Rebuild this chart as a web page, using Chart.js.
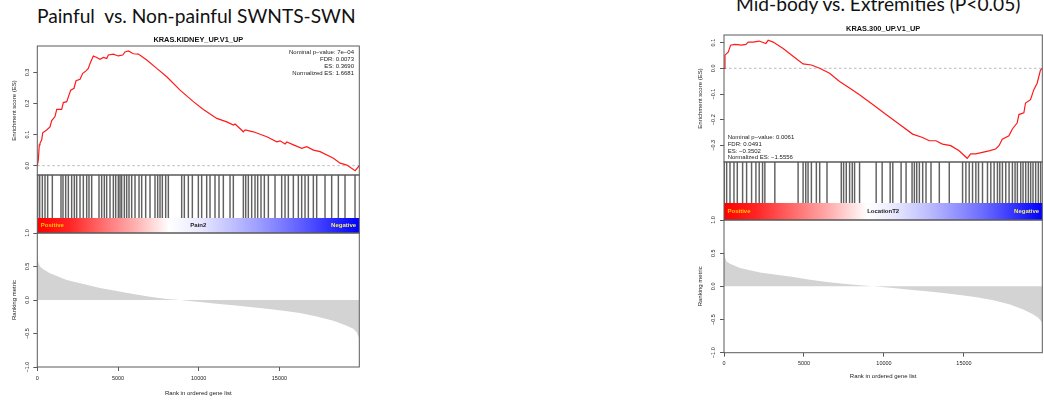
<!DOCTYPE html>
<html>
<head>
<meta charset="utf-8">
<script src="https://cdn.jsdelivr.net/npm/chart.js@4.4.1/dist/chart.umd.min.js"></script>
<style>
html, body { margin: 0; padding: 0; background: #fff; }
#page { position: relative; width: 1044px; height: 403px; overflow: hidden; }
canvas { position: absolute; top: 0; }
.head { position: absolute; font-family: Lato, 'Open Sans', sans-serif; font-size: 19.2px; line-height: 20px; color: #111; white-space: pre; }
</style>
</head>
<body>
<div id="page">
  <div class="head" style="left:37px; top:6px">Painful  vs. Non-painful SWNTS-SWN</div>
  <div class="head" style="left:736px; top:-5.6px">Mid-body vs. Extremities (P&lt;0.05)</div>
  <canvas id="gseaPain" width="372" height="403" style="left:0"></canvas>
  <canvas id="gseaLocation" width="384" height="403" style="left:660px"></canvas>
</div>
<script>
const FONT = "'Liberation Sans', Arial, Helvetica, sans-serif";

// ---- Pain2: KRAS.KIDNEY_UP.V1_UP ----
const geneCountPain = 19950;
const esRankPain = [0, 62, 124, 167, 273, 335, 583, 787, 893, 1097, 1203, 1512, 1612, 1822, 2070, 2275, 2399, 2647, 2814, 3019,
  3161, 3267, 3471, 3682, 3886, 4091, 4302, 4401, 4711, 5021, 5293, 5436, 5641, 5951, 6261, 6781, 7401, 8021, 8845, 9669,
  10289, 11120, 11740, 12149, 12254, 12769, 12874, 13389, 14219, 14839, 15044, 15354, 15459, 15868, 16389, 16699, 17108, 17523, 18347, 18762,
  19178, 19693, 19950];
const esPain = [0, 0.018, 0.067, 0.072, 0.083, 0.106, 0.115, 0.125, 0.145, 0.158, 0.181, 0.181, 0.203, 0.206, 0.243, 0.249, 0.273, 0.278, 0.297, 0.305,
  0.313, 0.329, 0.353, 0.348, 0.342, 0.348, 0.345, 0.356, 0.359, 0.353, 0.356, 0.366, 0.369, 0.360, 0.359, 0.340, 0.313, 0.286, 0.243, 0.206,
  0.181, 0.152, 0.141, 0.131, 0.134, 0.109, 0.115, 0.109, 0.093, 0.077, 0.080, 0.070, 0.076, 0.067, 0.056, 0.061, 0.050, 0.045, 0.024, 0.008,
  0.002, -0.016, 0.0];
const hitsPain = [23, 147, 312, 477, 642, 931, 1468, 1592, 1758, 1923, 2129, 2295, 2439, 2646, 2852, 3059, 3203, 3369, 3823, 3988,
  4153, 4298, 4504, 4711, 4856, 5021, 5124, 5227, 5393, 5537, 5682, 5847, 6054, 6302, 6467, 6715, 6983, 7293, 7458, 7603,
  7747, 7954, 8119, 8945, 9110, 9358, 9606, 9978, 10184, 10494, 10700, 11010, 11258, 11526, 11940, 12146, 12766, 12911, 13075, 13282,
  13489, 13654, 13860, 14067, 14315, 14728, 15141, 15348, 15554, 15864, 16173, 16380, 16587, 16793, 17103, 17310, 17826, 18239, 18652, 19065, 19685];
const metricRankPain = [0, 62, 167, 372, 787, 1822, 2850, 3885, 4920, 5948, 6983, 8017, 8841, 10080, 11115, 12150, 13179, 14213, 15242, 16276,
  17311, 18346, 19170, 19578, 19790, 19950];
const metricPain = [0.69, 0.56, 0.50, 0.46, 0.40, 0.30, 0.24, 0.18, 0.135, 0.09, 0.05, 0.015, 0, -0.03, -0.055, -0.08, -0.105, -0.13, -0.16, -0.195,
  -0.245, -0.31, -0.385, -0.43, -0.48, -0.58];
const esTicksPain = [0, 0.1, 0.2, 0.3];
const statsPain = ['Nominal p\u2212value: 7e\u221204', 'FDR: 0.0073', 'ES: 0.3690', 'Normalized ES: 1.6681'];

// ---- LocationT2: KRAS.300_UP.V1_UP ----
const geneCountLocation = 19894;
const esRankLocation = [0, 62, 270, 415, 685, 1100, 1370, 1515, 1826, 2200, 2615, 2760, 3072, 3695, 4317, 4940, 5459, 5978, 6600, 7223,
  7846, 8468, 9298, 10128, 10959, 11789, 12412, 12827, 13242, 13657, 14176, 14695, 15200, 15421, 15733, 16148, 16563, 16978, 17186, 17393,
  17808, 18015, 18327, 18431, 18742, 18846, 19157, 19365, 19572, 19780, 19894];
const esLocation = [0, 0.051, 0.064, 0.090, 0.093, 0.090, 0.093, 0.102, 0.102, 0.106, 0.096, 0.109, 0.102, 0.077, 0.047, 0.017, 0.013, 0.000, -0.019, -0.051,
  -0.077, -0.103, -0.141, -0.180, -0.218, -0.256, -0.269, -0.282, -0.282, -0.295, -0.301, -0.321, -0.3502, -0.333, -0.333, -0.327, -0.321, -0.314, -0.301, -0.276,
  -0.263, -0.237, -0.212, -0.180, -0.173, -0.135, -0.122, -0.083, -0.058, -0.007, 0];
const hitsLocation = [10, 166, 374, 623, 831, 1163, 1412, 1724, 1994, 2201, 2409, 2554, 3177, 4631, 4943, 5109, 5254, 5462, 5773, 5981,
  6438, 7331, 7476, 7642, 7850, 8016, 8161, 8473, 9511, 9885, 10384, 10550, 11069, 11380, 11754, 11899, 12045, 12211, 12418, 12626,
  12938, 13457, 14080, 14911, 15118, 15326, 15534, 15741, 15907, 16157, 16468, 16676, 16883, 17091, 17236, 17402, 17610, 17818, 18026, 18192,
  18337, 18545, 18690, 18856, 19022, 19167, 19313, 19479, 19645, 19790];
const metricRankLocation = [0, 62, 167, 375, 1000, 2250, 3292, 4333, 5375, 6417, 7458, 8500, 9333, 10583, 11625, 12667, 13708, 14750, 15792, 16833,
  17875, 18708, 19333, 19646, 19894];
const metricLocation = [0.525, 0.43, 0.375, 0.34, 0.275, 0.21, 0.175, 0.14, 0.10, 0.065, 0.04, 0.015, 0, -0.025, -0.05, -0.075, -0.10, -0.13, -0.165, -0.21,
  -0.275, -0.35, -0.425, -0.475, -0.55];
const esTicksLocation = [-0.3, -0.2, -0.1, 0, 0.1];
const statsLocation = ['Nominal p\u2212value: 0.0061', 'FDR: 0.0491', 'ES: \u22120.3502', 'Normalized ES: \u22121.5556'];

// shared axes
const metricTicks = [-1, -0.5, 0, 0.5, 1];
const rankTicks = [0, 5000, 10000, 15000];

Chart.defaults.font.family = FONT;
Chart.defaults.color = '#222';

const fmt1 = v => (v < 0 ? '\u2212' : '') + Math.abs(v).toFixed(1);
const pts = (xs, ys) => xs.map((x, i) => ({ x, y: ys[i] }));

// Frames, phenotype colour bar, gene-set name and statistics block
const gseaDecor = {
  id: 'gseaDecor',
  afterDraw(chart, args, o) {
    const ctx = chart.ctx;
    const { left, right } = chart.chartArea;
    const es = chart.scales.yES, hit = chart.scales.yHit, bar = chart.scales.yBar, rk = chart.scales.yRank;
    ctx.save();
    const g = ctx.createLinearGradient(left, 0, right, 0);
    o.gradient.forEach(s => g.addColorStop(s[0], s[1]));
    ctx.fillStyle = g;
    ctx.fillRect(left, bar.top, right - left, bar.bottom - bar.top);

    const my = (bar.top + bar.bottom) / 2;
    ctx.font = 'bold 6px ' + FONT;
    ctx.textBaseline = 'middle';
    ctx.fillStyle = '#ffc800';
    ctx.textAlign = 'left';
    ctx.fillText('Positive', left + 3.5, my);
    ctx.fillStyle = '#f4f060';
    ctx.textAlign = 'right';
    ctx.fillText('Negative', right - 3.2, my);
    ctx.fillStyle = '#222';
    ctx.textAlign = 'center';
    ctx.fillText(o.phenotype, (left + right) / 2, my);

    ctx.strokeStyle = '#5a5a5a';
    ctx.lineWidth = 1;
    ctx.strokeRect(left, es.top, right - left, es.bottom - es.top);
    ctx.strokeRect(left, hit.top, right - left, bar.bottom - hit.top);
    ctx.strokeRect(left, rk.top, right - left, rk.bottom - rk.top);

    ctx.fillStyle = '#111';
    ctx.font = 'bold 7.4px ' + FONT;
    ctx.textAlign = 'center';
    ctx.fillText(o.geneSet, (left + right) / 2, es.top - 6.5);

    ctx.font = '6px ' + FONT;
    ctx.fillStyle = '#222';
    o.stats.forEach((s, i) => {
      if (o.statsAt === 'topRight') {
        ctx.textAlign = 'right';
        ctx.fillText(s, right - 5.3, es.top + 6.7 + i * 6.85);
      } else {
        ctx.textAlign = 'left';
        ctx.fillText(s, left + 3.7, es.bottom - 24.7 + i * 6.8);
      }
    });
    ctx.restore();
  }
};

function gseaPanel(canvasId, p) {
  const yLeft = (extra) => Object.assign({
    position: 'left',
    stack: 'gsea',
    afterFit: s => { s.width = p.axisWidth; },
    border: { display: false },
  }, extra);

  return new Chart(document.getElementById(canvasId), {
    type: 'line',
    data: {
      datasets: [
        { type: 'line', data: pts(p.esRank, p.es), yAxisID: 'yES', borderColor: '#ff1a1a', borderWidth: 1.2,
          pointRadius: 0, tension: 0, fill: false },
        { type: 'line', data: [{ x: 0, y: 0 }, { x: p.geneCount, y: 0 }], yAxisID: 'yES', borderColor: '#a8a8a8',
          borderWidth: 0.8, borderDash: [2.5, 2.5], pointRadius: 0, fill: false },
        { type: 'bar', data: p.hits.map(r => ({ x: r, y: 1 })), yAxisID: 'yHit', backgroundColor: 'rgba(0,0,0,0.62)',
          barThickness: 0.8, borderWidth: 0 },
        { type: 'line', data: pts(p.metricRank, p.metric), yAxisID: 'yRank', borderWidth: 0,
          borderColor: 'rgba(0,0,0,0)', backgroundColor: '#d3d3d3', fill: 'origin', pointRadius: 0, tension: 0 }
      ]
    },
    options: {
      responsive: false,
      animation: false,
      devicePixelRatio: 1,
      layout: { padding: { top: p.top, right: p.padRight, left: 0, bottom: 0 } },
      plugins: {
        legend: { display: false },
        tooltip: { enabled: false },
        gseaDecor: {
          gradient: p.gradient, phenotype: p.phenotype, geneSet: p.geneSet,
          stats: p.stats, statsAt: p.statsAt
        }
      },
      scales: {
        x: {
          type: 'linear', position: 'bottom', min: 0, max: p.geneCount, offset: false,
          afterFit: s => { s.height = p.xAxisHeight; },
          afterBuildTicks: s => { s.ticks = rankTicks.map(v => ({ value: v })); },
          ticks: { autoSkip: false, maxRotation: 0, padding: p.xTickPad, font: { size: 5.5 }, callback: v => String(v) },
          grid: { drawOnChartArea: false, drawTicks: true, tickLength: 4, color: '#5a5a5a', offset: false },
          border: { display: false },
          title: { display: true, text: 'Rank in ordered gene list', font: { size: 6 }, padding: { top: 0, bottom: p.xTitlePad } }
        },
        yES: yLeft({
          type: 'linear', weight: 4, stackWeight: p.weights[0], min: p.esMin, max: p.esMax,
          afterBuildTicks: s => { s.ticks = p.esTicks.map(v => ({ value: v })); },
          ticks: { autoSkip: false, minRotation: 90, maxRotation: 90, crossAlign: 'center', padding: p.esTickPad,
                   font: { size: 5.5 }, callback: fmt1 },
          grid: { drawOnChartArea: false, drawTicks: true, tickLength: 4, color: '#5a5a5a' },
          title: { display: true, text: 'Enrichment score (ES)', font: { size: 6 }, padding: { top: p.yTitlePad, bottom: 0 } }
        }),
        yHit: yLeft({
          type: 'linear', weight: 3, stackWeight: p.weights[1], min: 0, max: 1,
          ticks: { display: false }, grid: { display: false }
        }),
        yBar: yLeft({
          type: 'linear', weight: 2, stackWeight: p.weights[2], min: 0, max: 1,
          ticks: { display: false }, grid: { display: false }
        }),
        yRank: yLeft({
          type: 'linear', weight: 1, stackWeight: p.weights[3], min: -1, max: 1,
          afterBuildTicks: s => { s.ticks = metricTicks.map(v => ({ value: v })); },
          ticks: { autoSkip: false, minRotation: 90, maxRotation: 90, crossAlign: 'center', padding: p.rankTickPad,
                   font: { size: 5.5 }, callback: fmt1 },
          grid: { drawOnChartArea: false, drawTicks: true, tickLength: 4, color: '#5a5a5a' },
          title: { display: true, text: 'Ranking metric', font: { size: 6 }, padding: { top: p.yTitlePad, bottom: 0 } }
        })
      }
    },
    plugins: [gseaDecor]
  });
}

const phenotypeGradientPain = [[0, '#ff0000'], [0.1, '#ff2424'], [0.2, '#ff6c6c'], [0.3, '#ffadad'], [0.41, '#ffffff'],
  [0.5, '#eaeaff'], [0.6, '#c2c2ff'], [0.7, '#9898ff'], [0.8, '#6868ff'], [0.9, '#3434ff'], [1, '#0000ff']];
const phenotypeGradientLocation = [[0, '#ff0000'], [0.1, '#ff2424'], [0.22, '#ff6c6c'], [0.33, '#ffadad'], [0.45, '#ffffff'],
  [0.53, '#eaeaff'], [0.63, '#c2c2ff'], [0.72, '#9898ff'], [0.82, '#6868ff'], [0.91, '#3434ff'], [1, '#0000ff']];

gseaPanel('gseaPain', {
  geneCount: geneCountPain, esRank: esRankPain, es: esPain, hits: hitsPain,
  metricRank: metricRankPain, metric: metricPain, esTicks: esTicksPain, stats: statsPain,
  geneSet: 'KRAS.KIDNEY_UP.V1_UP', phenotype: 'Pain2', statsAt: 'topRight', gradient: phenotypeGradientPain,
  top: 46, padRight: 12.7, axisWidth: 37.3, xAxisHeight: 36, weights: [129, 43, 15, 134],
  esMin: -0.030, esMax: 0.385, esTickPad: 2.2, rankTickPad: 0.6, yTitlePad: 10.4, xTickPad: 3.8, xTitlePad: 6.4
});

gseaPanel('gseaLocation', {
  geneCount: geneCountLocation, esRank: esRankLocation, es: esLocation, hits: hitsLocation,
  metricRank: metricRankLocation, metric: metricLocation, esTicks: esTicksLocation, stats: statsLocation,
  geneSet: 'KRAS.300_UP.V1_UP', phenotype: 'LocationT2', statsAt: 'bottomLeft', gradient: phenotypeGradientLocation,
  top: 35, padRight: 1.7, axisWidth: 64, xAxisHeight: 50.3, weights: [127, 41, 17, 132.7],
  esMin: -0.3646, esMax: 0.1296, esTickPad: 1.3, rankTickPad: 1.3, yTitlePad: 36.4, xTickPad: 3.4, xTitlePad: 22.7
});
</script>
</body>
</html>
